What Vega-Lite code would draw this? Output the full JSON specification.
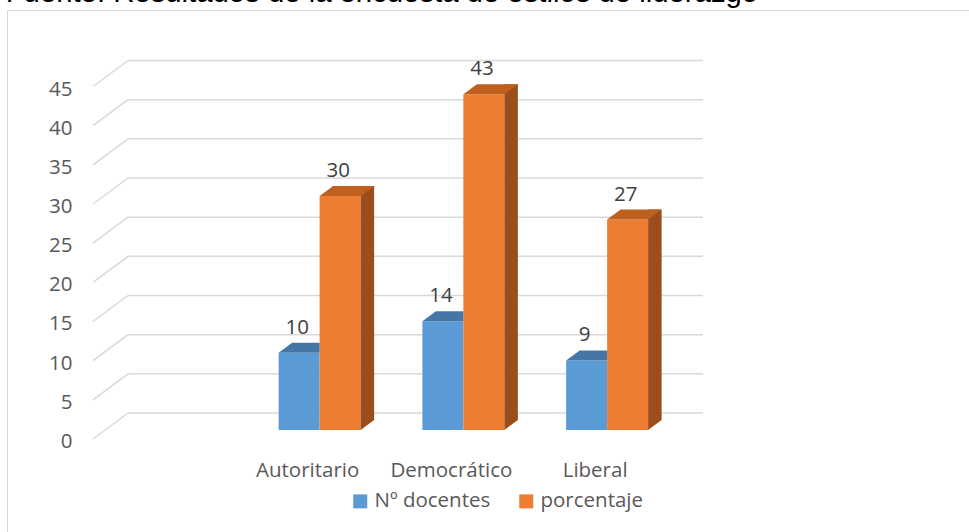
{
  "$schema": "https://vega.github.io/schema/vega-lite/v6.json",
  "width": 970,
  "height": 530,
  "autosize": {"type": "none"},
  "padding": {"left": 7, "top": 10, "right": 0, "bottom": 0},
  "background": "#FFFFFF",
  "title": {
    "text": "Fuente: Resultados de la encuesta de estilos de liderazgo",
    "anchor": "start",
    "frame": "group",
    "orient": "top",
    "offset": 6,
    "baseline": "alphabetic",
    "font": "Liberation Sans",
    "fontSize": 29.3,
    "fontWeight": "normal",
    "color": "#000000",
    "dx": -1.3,
    "dy": 27.5
  },
  "config": {
    "view": {"stroke": "#D9D9D9", "strokeWidth": 1},
    "font": "Open Sans"
  },
  "datasets": {
    "barras": [
      {"categoria": "Autoritario", "serie": "Nº docentes", "valor": 10},
      {"categoria": "Autoritario", "serie": "porcentaje", "valor": 30},
      {"categoria": "Democrático", "serie": "Nº docentes", "valor": 14},
      {"categoria": "Democrático", "serie": "porcentaje", "valor": 43},
      {"categoria": "Liberal", "serie": "Nº docentes", "valor": 9},
      {"categoria": "Liberal", "serie": "porcentaje", "valor": 27}
    ],
    "ticks": [
      {"v": 0}, {"v": 5}, {"v": 10}, {"v": 15}, {"v": 20},
      {"v": 25}, {"v": 30}, {"v": 35}, {"v": 40}, {"v": 45}
    ]
  },
  "layer": [
    {
      "data": {"name": "ticks"},
      "mark": {"type": "rule", "color": "#D9D9D9", "strokeWidth": 1.5},
      "encoding": {
        "x": {"datum": " ", "type": "nominal", "bandPosition": 0, "title": null,
          "scale": {"domain": [" ", "Autoritario", "Democrático", "Liberal"], "range": [121, 696], "paddingInner": 0, "paddingOuter": 0, "round": false}},
        "x2": {"datum": "Liberal", "bandPosition": 1},
        "y": {"field": "v", "type": "quantitative", "title": null,
          "scale": {"domain": [-16.213, 51.447], "nice": false, "zero": false, "round": false}}
      }
    },
    {
      "data": {"name": "ticks"},
      "mark": {"type": "rule", "color": "#D9D9D9", "strokeWidth": 1.5, "xOffset": -35, "yOffset": 26, "x2Offset": 0, "y2Offset": 0},
      "encoding": {
        "x": {"datum": " ", "type": "nominal", "bandPosition": 0, "title": null},
        "x2": {"datum": " ", "bandPosition": 0},
        "y": {"field": "v", "type": "quantitative", "title": null},
        "y2": {"field": "v"}
      }
    },
    {
      "data": {"name": "barras"},
      "transform": [{"filter": "datum.serie === 'Nº docentes'"}],
      "mark": {"type": "bar", "width": 41, "xOffset": -44.5, "yOffset": 18, "y2Offset": 17},
      "encoding": {
        "x": {"field": "categoria", "type": "nominal", "title": null,
          "axis": {"orient": "bottom", "offset": -80, "labelPadding": 0, "ticks": false, "domain": false, "grid": false, "labelOffset": -36, "labelFont": "Open Sans", "labelFontSize": 20.5, "labelColor": "#595959", "labelAngle": 0, "labelAlign": "center", "labelBaseline": "top", "title": null}},
        "y": {"field": "valor", "type": "quantitative", "title": null,
          "axis": {"values": [0, 5, 10, 15, 20, 25, 30, 35, 40, 45], "orient": "left", "offset": -65, "labelPadding": 0, "ticks": false, "domain": false, "grid": false, "labelOffset": 28.5, "labelFont": "Open Sans", "labelFontSize": 20.5, "labelColor": "#595959", "labelAlign": "right", "labelBaseline": "middle", "title": null}},
        "y2": {"datum": 0},
        "color": {"field": "serie", "type": "nominal",
          "scale": {"domain": ["Nº docentes", "porcentaje"], "range": ["#5B9BD5", "#ED7D31"]},
          "legend": {"orient": "none", "legendX": 343, "legendY": 481, "direction": "horizontal", "title": null, "symbolType": "square", "symbolSize": 196, "symbolStrokeWidth": 0, "labelFont": "Open Sans", "labelFontSize": 20.5, "labelColor": "#595959", "labelOffset": 4, "columnPadding": 25, "padding": 0}}
      }
    },
    {
      "data": {"name": "barras"},
      "transform": [{"filter": "datum.serie === 'porcentaje'"}],
      "mark": {"type": "bar", "width": 41, "xOffset": -3.5, "yOffset": 18, "y2Offset": 17},
      "encoding": {
        "x": {"field": "categoria", "type": "nominal", "title": null},
        "y": {"field": "valor", "type": "quantitative", "title": null},
        "y2": {"datum": 0},
        "color": {"field": "serie", "type": "nominal"}
      }
    },
    {
      "data": {"name": "barras"},
      "transform": [{"filter": "datum.serie === 'porcentaje'"}],
      "mark": {"type": "bar", "width": 13.5, "xOffset": 23.75, "yOffset": 8, "y2Offset": 7, "color": "#9B4D1C"},
      "encoding": {
        "x": {"field": "categoria", "type": "nominal", "title": null},
        "y": {"field": "valor", "type": "quantitative", "title": null},
        "y2": {"datum": 0}
      }
    },
    {
      "data": {"name": "barras"},
      "transform": [{"filter": "datum.serie === 'porcentaje'"}],
      "mark": {"type": "point", "filled": true, "opacity": 1, "strokeWidth": 0, "size": 6400, "shape": "M0.5125,0L0.5125,-0.25L0.85,-0.25Z", "color": "#9B4D1C", "xOffset": -3.5, "yOffset": 17},
      "encoding": {
        "x": {"field": "categoria", "type": "nominal", "title": null},
        "y": {"datum": 0, "type": "quantitative", "title": null}
      }
    },
    {
      "data": {"name": "barras"},
      "transform": [{"filter": "datum.serie === 'Nº docentes'"}],
      "mark": {"type": "point", "filled": true, "opacity": 1, "strokeWidth": 0, "size": 6400, "shape": "M-0.5125,0L0.5125,0L0.5125,-0.25L-0.175,-0.25Z", "color": "#4676A5", "xOffset": -44.5, "yOffset": 18},
      "encoding": {
        "x": {"field": "categoria", "type": "nominal", "title": null},
        "y": {"field": "valor", "type": "quantitative", "title": null}
      }
    },
    {
      "data": {"name": "barras"},
      "transform": [{"filter": "datum.serie === 'porcentaje'"}],
      "mark": {"type": "point", "filled": true, "opacity": 1, "strokeWidth": 0, "size": 6400, "shape": "M-0.5125,0L0.5125,0L0.85,-0.25L-0.175,-0.25Z", "color": "#C0601F", "xOffset": -3.5, "yOffset": 18},
      "encoding": {
        "x": {"field": "categoria", "type": "nominal", "title": null},
        "y": {"field": "valor", "type": "quantitative", "title": null}
      }
    },
    {
      "data": {"name": "barras"},
      "transform": [{"filter": "datum.serie === 'Nº docentes'"}],
      "mark": {"type": "text", "xOffset": -46.5, "yOffset": -7, "baseline": "middle", "align": "center", "font": "Open Sans", "fontSize": 20.5, "color": "#404040"},
      "encoding": {
        "x": {"field": "categoria", "type": "nominal", "title": null},
        "y": {"field": "valor", "type": "quantitative", "title": null},
        "text": {"field": "valor", "type": "quantitative"}
      }
    },
    {
      "data": {"name": "barras"},
      "transform": [{"filter": "datum.serie === 'porcentaje'"}],
      "mark": {"type": "text", "xOffset": -5.5, "yOffset": -7, "baseline": "middle", "align": "center", "font": "Open Sans", "fontSize": 20.5, "color": "#404040"},
      "encoding": {
        "x": {"field": "categoria", "type": "nominal", "title": null},
        "y": {"field": "valor", "type": "quantitative", "title": null},
        "text": {"field": "valor", "type": "quantitative"}
      }
    }
  ]
}
